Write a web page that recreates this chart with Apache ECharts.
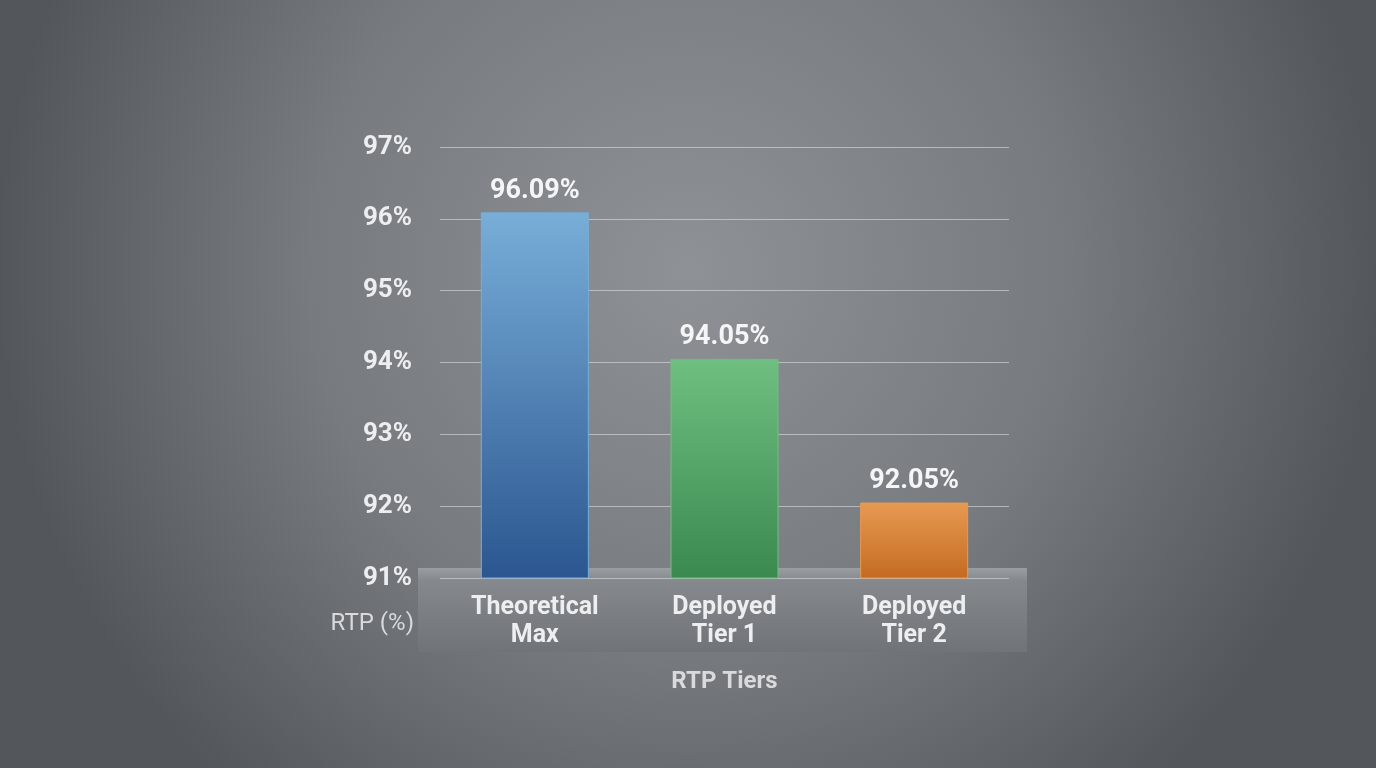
<!DOCTYPE html>
<html><head><meta charset="utf-8">
<script src="https://cdn.jsdelivr.net/npm/echarts@6/dist/echarts.min.js"></script>
<style>html,body{margin:0;padding:0;}#c{width:1376px;height:768px;}</style>
</head><body><div id="c"></div>
<script>
const categories = ['Theoretical\nMax', 'Deployed\nTier 1', 'Deployed\nTier 2'];
const values = [96.09, 94.05, 92.05];
const colorsTop = ['#78aed8', '#6fbf80', '#e89a52'];
const colorsBottom = ['#2b5690', '#3a8a50', '#c46a22'];
const chart = echarts.init(document.getElementById('c'));
chart.setOption({
  backgroundColor: {type:'radial', x:0.5, y:0.35, r:0.9, colorStops:[{offset:0,color:'#8e9297'},{offset:0.55,color:'#777b80'},{offset:1,color:'#53575c'}]},
  graphic: [
    {type:'rect', shape:{x:418,y:568,width:609,height:84}, style:{fill:{type:'linear',x:0,y:0,x2:0,y2:1,colorStops:[{offset:0,color:'#9a9ea3'},{offset:0.15,color:'#85898e'},{offset:1,color:'#707479'}]}}, z:0}
  ],
  grid: {left:440, right:367, top:147, bottom:190},
  xAxis: {
    type:'category', data:categories,
    name:'RTP Tiers', nameLocation:'middle', nameGap:92,
    nameTextStyle:{color:'#d8dadc', fontSize:24, fontWeight:'bold', fontFamily:'Roboto'},
    axisLine:{show:false}, axisTick:{show:false},
    axisLabel:{color:'#eceeef', fontSize:25, fontWeight:'bold', fontFamily:'Roboto', lineHeight:28, margin:16}
  },
  yAxis: {
    type:'value', min:91, max:97, interval:1,
    name:'RTP (%)', nameLocation:'start', nameGap:34,
    nameTextStyle:{color:'#d8dadc', fontSize:24, fontFamily:'Roboto', align:'right', padding:[0,26,0,0]},
    axisLine:{show:false}, axisTick:{show:false},
    axisLabel:{color:'#eceeef', fontSize:26, fontWeight:'bold', fontFamily:'Roboto', margin:28, formatter:'{value}%'},
    splitLine:{lineStyle:{color:'rgba(220,222,225,0.6)', width:1}}
  },
  series: [{
    type:'bar', barWidth:108, z:3,
    data: values.map((v,i)=>({value:v, itemStyle:{color:{type:'linear',x:0,y:0,x2:0,y2:1,colorStops:[{offset:0,color:colorsTop[i]},{offset:1,color:colorsBottom[i]}]}, borderColor:colorsTop[i], borderWidth:1}})),
    label:{show:true, position:'top', distance:8, color:'#f4f5f6', fontSize:27, fontWeight:'bold', fontFamily:'Roboto', formatter:p=>p.value.toFixed(2)+'%'}
  }]
});
</script></body></html>
